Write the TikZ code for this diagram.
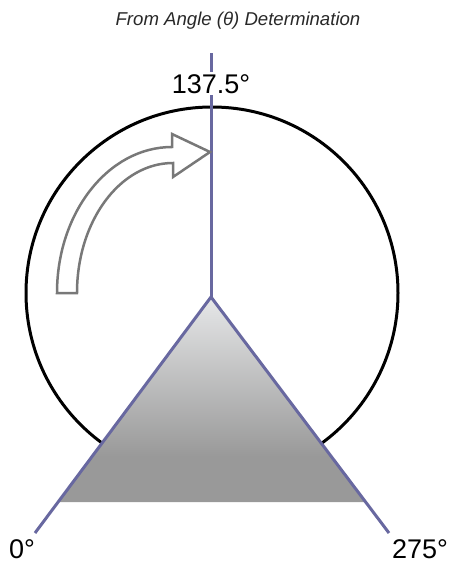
\documentclass[tikz,border=0pt]{standalone}
\usepackage{fontspec}
\setmainfont{Liberation Sans}
\definecolor{axisline}{RGB}{104,104,160}
\definecolor{arrowgray}{RGB}{120,120,120}
\definecolor{gtop}{RGB}{230,231,232}
\definecolor{gbot}{RGB}{153,153,153}
\definecolor{titlegray}{RGB}{40,40,40}
\pgfdeclareverticalshading{trishade}{100bp}{color(0bp)=(gbot); color(25bp)=(gbot); color(36bp)=(gbot); color(75bp)=(gtop); color(100bp)=(gtop)}
\begin{document}
\begin{tikzpicture}[x=1pt,y=-1pt,
  axis/.style={draw=axisline,line width=3pt},
  lbl/.style={font=\fontsize{27}{30}\selectfont,inner sep=0pt,anchor=base},
  hollowarrow/.style={draw=arrowgray,line width=2.5pt,fill=white,line join=miter}]
\useasboundingbox (0,0) rectangle (449,562);
% ring
\node[draw,circle,line width=3pt,minimum size=372pt,inner sep=0pt] (ring) at (212,293) {};
% points
\coordinate (apex) at (211,297);
\coordinate (top) at (211,53);
\coordinate (lend) at (35,533);
\coordinate (rend) at (389,533);
\coordinate (lfill) at (58,502);
\coordinate (rfill) at (366,502);
% shaded triangle
\path[shading=trishade] (apex) -- (lfill) -- (rfill) -- cycle;
% axes
\draw[axis] (top) -- (apex);
\draw[axis] (lend) -- (apex) -- (rend);
% label on vertical axis
\node[lbl,fill=white,inner ysep=2pt] (lab137) at (211,93) {137.5°};
\node[lbl] (lab0) at (22,558) {0°};
\node[lbl] (lab275) at (420,558) {275°};
% title
\node[font=\fontsize{18.6}{20}\selectfont\itshape,text=titlegray,anchor=base,inner sep=0pt] (title) at (238,25) {From Angle (θ) Determination};
% hollow curved arrow
\draw[hollowarrow] (57,293) arc[start angle=180,end angle=270,x radius=115,y radius=146]
  -- (172,134) -- (210,152) -- (173,177) -- (173,163)
  arc[start angle=270,end angle=180,x radius=96,y radius=130] -- cycle;
\end{tikzpicture}
\end{document}
